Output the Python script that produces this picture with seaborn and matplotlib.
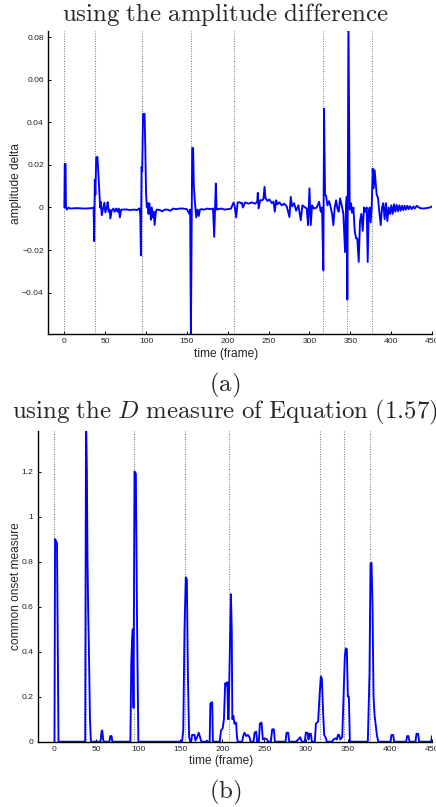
import matplotlib
matplotlib.use("Agg")
import matplotlib.pyplot as plt
import seaborn as sns
import pandas as pd

# ---------------- data ----------------
onsets_a = [0, 37, 95, 155, 208, 317, 346, 376]
onsets_b = [0, 38, 95, 156, 208, 317, 345, 376]

amp_frames = [0, 0.5, 1.5, 2, 3, 5, 7, 15, 25, 34, 35.8, 36.5, 37.3, 38, 39, 40.5, 42.5, 43.8,
              44.6, 45.8, 47.4, 49, 50.2, 52, 53, 54.3, 55.5, 56.3, 58, 60, 61.5, 63.5, 65,
              66.5, 68, 69.5, 72, 76, 80, 85, 89, 92, 92.9, 93.7, 94.5, 95.3, 96.3, 98.2, 99,
              100, 101, 102, 103, 104, 105, 106, 107, 108.5, 109.5, 110.5, 112, 113, 117, 120,
              123, 126, 130, 133, 137, 141, 145, 150, 153, 154, 154.9, 156.5, 157.6, 158.5,
              159.8, 161.5, 163, 164.5, 166, 168, 171, 175, 179, 182, 183.4, 185.4, 186.4,
              188, 192, 196, 200, 204, 207, 208.3, 210.4, 212, 214, 216, 217.2, 218.5, 221.3,
              225.4, 229.5, 233.5, 236, 236.8, 237.8, 239.6, 242.1, 243.7, 245, 246.2, 248.6,
              251, 253.9, 256, 257.6, 259.2, 260.8, 263.3, 266.1, 269, 272.2, 275.5, 277.1,
              278.8, 281.2, 283.7, 286.5, 289.4, 291.4, 294.7, 296.7, 298.3, 300, 301.6, 303.2,
              305.7, 308.9, 311.8, 313.8, 315.4, 317, 317.9, 319.1, 320.3, 322, 324, 326,
              327.7, 329.3, 330.9, 332.6, 334.2, 335.8, 337.5, 339.5, 341.5, 342.3, 343.6,
              344.8, 345.6, 346.4, 347.8, 349.3, 350.9, 352.1, 353.8, 355.4, 357, 358.6, 360.3,
              361.9, 363.5, 365.2, 366.8, 368.4, 370.1, 371.3, 372.5, 373.7, 374.9, 376.2,
              377.4, 378.6, 379.8, 381, 382.3, 383.9, 385.5, 387.2, 388.8, 390.4, 392, 393.7,
              395.3, 396.9, 398.6, 400.2, 401.8, 403.5, 405.1, 406.7, 408.4, 410, 411.6, 413.3,
              414.9, 416.5, 418.1, 419.8, 421.4, 423, 425.1, 427.1, 429.1, 431.2, 435.3, 439.3,
              443.4, 447.5, 450]
amp_delta = [0.0, 0.0205, 0.0205, 0.0, -0.001, 0.0, -0.0005, -0.0003, -0.0005, -0.0003, 0.0,
             -0.0158, 0.013, 0.006, 0.0235, 0.0238, 0.010, 0.0, 0.0027, -0.0036, -0.0005, 0.0023,
             -0.0023, 0.0, 0.0025, -0.002, -0.001, -0.0052, -0.0015, -0.0005, -0.002, -0.0005,
             -0.002, -0.0005, -0.0047, -0.001, -0.001, -0.0009, -0.0012, -0.001, -0.0012,
             -0.0004, -0.003, -0.0225, 0.019, 0.017, 0.044, 0.044, 0.030, 0.0067, 0.0, 0.002,
             -0.003, 0.002, -0.0015, -0.0058, 0.0, -0.0047, -0.002, -0.0082, -0.002, -0.001,
             -0.0012, -0.0018, -0.001, -0.001, -0.0015, -0.0005, -0.0008, -0.0005, -0.0005,
             -0.0008, -0.003, -0.001, -0.062, 0.028, 0.028, 0.010, 0.0025, -0.0047, -0.001,
             -0.004, -0.001, -0.0008, -0.001, -0.0005, -0.0008, -0.0005, -0.0138, 0.0113,
             -0.001, -0.0008, -0.0005, -0.001, -0.0008, -0.0005, 0.0023, 0.001, -0.0047, 0.0023,
             0.0025, 0.002, 0.0023, 0.0, 0.0024, 0.0018, 0.0024, 0.0018, 0.0026, 0.0069, -0.0005,
             0.0034, 0.0034, 0.004, 0.0097, 0.0045, 0.003, 0.0038, 0.002, 0.0028, -0.002, 0.0034,
             0.0015, 0.0024, 0.001, 0.0018, 0.0005, -0.0045, 0.005, 0.0005, 0.002, -0.0015,
             0.001, -0.006, 0.001, 0.0, -0.0005, -0.0083, 0.009, -0.0083, 0.001, -0.0005, 0.0,
             0.0027, -0.002, 0.0, -0.0295, 0.0464, 0.006, 0.0055, 0.001, 0.003, 0.0, -0.003,
             -0.0083, 0.0, 0.0034, -0.0005, -0.002, 0.0043, 0.001, -0.003, -0.0099, -0.021, 0.0,
             0.005, -0.0433, 0.085, -0.001, 0.002, -0.0025, 0.0, -0.011, -0.0145, -0.0146,
             -0.0256, -0.0064, -0.003, -0.011, 0.0, -0.002, 0.0, -0.0256, -0.002, 0.0, -0.007,
             0.0, 0.0183, 0.009, 0.0175, 0.012, 0.006, 0.0045, -0.002, -0.0083, 0.0, 0.002,
             -0.0055, 0.002, -0.0064, 0.0, -0.003, 0.001, -0.003, 0.0015, -0.002, 0.0012,
             -0.0018, 0.001, -0.0015, 0.0008, -0.0012, 0.0008, -0.001, 0.0008, -0.0008, 0.0006,
             -0.0008, 0.0005, -0.0005, 0.0008, -0.0003, -0.0005, -0.0003, 0.0, 0.0005]

d_frames = [0, 0.7, 2.0, 3.0, 4.8, 36.6, 37.6, 38.6, 39.4, 40.3, 41, 42.3, 43.4, 55, 56, 57, 58,
            59, 65.5, 66.5, 68, 69, 90.5, 91.5, 92.5, 93.3, 94.2, 95.4, 97, 98.5, 100, 152,
            153.5, 155, 156.5, 157.8, 159, 160.5, 162, 163, 164, 167, 168, 170, 172, 173.5,
            175, 181, 181.6, 182.3, 185, 185.8, 188, 188.8, 197, 198.5, 200.5, 202, 203.5, 205,
            206, 207, 207.5, 209, 210.3, 211.3, 212, 213.3, 214.5, 216.5, 217.5, 218.5, 223.7,
            225.3, 226.5, 228.5, 230.5, 232.5, 233.7, 237.3, 238.5, 240.4, 241.6, 243.6, 244.8,
            246.8, 248.4, 250.8, 253.2, 254.7, 257.9, 259.5, 261.5, 262.7, 275.4, 276.6, 278.6,
            279.8, 288.1, 290.5, 292.9, 294.9, 298.4, 299.6, 301.6, 302.8, 304, 305.6, 306.8,
            310.4, 311.6, 313.1, 314.3, 315.9, 317.5, 318.7, 320.3, 321.5, 323.1, 324.7, 331,
            332.6, 335, 336.6, 337.8, 339.4, 340.6, 343, 344.5, 346.1, 347.3, 348.5, 349.7,
            350.9, 352.1, 373.5, 375.5, 376.7, 377.9, 379.1, 380.3, 381.5, 382.7, 384.3, 385.9,
            400.6, 401.7, 403.7, 404.9, 419.2, 420.4, 422, 423.2, 430.3, 431.5, 433.5, 434.7,
            449, 450]
d_measure = [0.0, 0.90, 0.89, 0.88, 0.0, 0.0, 1.45, 1.2, 0.8, 0.55, 0.42, 0.1, 0.0, 0.0, 0.045,
             0.05, 0.01, 0.0, 0.0, 0.025, 0.025, 0.0, 0.0, 0.35, 0.45, 0.50, 0.15, 1.2, 1.19,
             0.5, 0.0, 0.0, 0.05, 0.5, 0.73, 0.72, 0.3, 0.02, 0.0, 0.0, 0.03, 0.03, 0.005, 0.02,
             0.04, 0.02, 0.0, 0.0, 0.005, 0.0, 0.0, 0.17, 0.175, 0.0, 0.0, 0.05, 0.06, 0.1, 0.26,
             0.25, 0.265, 0.1, 0.1, 0.4, 0.655, 0.5, 0.1, 0.115, 0.08, 0.085, 0.02, 0.0, 0.0,
             0.03, 0.04, 0.025, 0.03, 0.02, 0.0, 0.0, 0.04, 0.045, 0.0, 0.0, 0.08, 0.085, 0.01,
             0.015, 0.01, 0.0, 0.0, 0.055, 0.055, 0.0, 0.0, 0.04, 0.04, 0.0, 0.0, 0.01, 0.02,
             0.0, 0.0, 0.04, 0.04, 0.01, 0.035, 0.035, 0.0, 0.0, 0.08, 0.085, 0.09, 0.2, 0.29,
             0.28, 0.12, 0.03, 0.02, 0.0, 0.0, 0.01, 0.015, 0.01, 0.03, 0.03, 0.01, 0.02, 0.2,
             0.38, 0.415, 0.41, 0.2, 0.2, 0.0, 0.0, 0.3, 0.79, 0.795, 0.6, 0.2, 0.12, 0.08, 0.03,
             0.0, 0.0, 0.03, 0.03, 0.0, 0.0, 0.025, 0.025, 0.0, 0.0, 0.035, 0.035, 0.0, 0.0,
             0.025]

xticks = [0, 50, 100, 150, 200, 250, 300, 350, 400, 450]
yticks_a = [-0.04, -0.02, 0, 0.02, 0.04, 0.06, 0.08]
ylabels_a = ["\u22120.04", "\u22120.02", "0", "0.02", "0.04", "0.06", "0.08"]
yticks_b = [0, 0.2, 0.4, 0.6, 0.8, 1.0, 1.2]
ylabels_b = ["0", "0.2", "0.4", "0.6", "0.8", "1", "1.2"]

# ---------------- style ----------------
sns.set_style("ticks")
plt.rcParams["font.family"] = ["Liberation Sans", "DejaVu Sans"]
plt.rcParams["mathtext.fontset"] = "cm"
plt.rcParams["xtick.direction"] = "in"
plt.rcParams["ytick.direction"] = "in"

W, H = 436, 807
fig = plt.figure(figsize=(W / 100, H / 100), dpi=100)

ax1 = fig.add_axes([48 / W, 1 - 334 / H, (432 - 48) / W, (334 - 31) / H])
ax2 = fig.add_axes([37.7 / W, 1 - 741.7 / H, (432 - 37.7) / W, (741.7 - 431) / H])

df_a = pd.DataFrame({"frame": amp_frames, "delta": amp_delta})
df_b = pd.DataFrame({"frame": d_frames, "measure": d_measure})

for x in onsets_a:
    ax1.axvline(x, color="0.5", ls=(0, (1, 1.4)), lw=0.75, zorder=1)
for x in onsets_b:
    ax2.axvline(x, color="0.5", ls=(0, (1, 1.4)), lw=0.75, zorder=1)

sns.lineplot(data=df_a, x="frame", y="delta", ax=ax1, color="#0000ff", lw=1.35,
             estimator=None, zorder=3)
sns.lineplot(data=df_b, x="frame", y="measure", ax=ax2, color="#0000ff", lw=1.35,
             estimator=None, zorder=3)

ax1.set_xlim(-20, 450)
ax1.set_ylim(-0.0595, 0.083)
ax2.set_xlim(-20, 450)
ax2.set_ylim(0, 1.38)

ax1.set_yticks(yticks_a)
ax1.set_yticklabels(ylabels_a)
ax2.set_yticks(yticks_b)
ax2.set_yticklabels(ylabels_b)
for ax in (ax1, ax2):
    ax.set_xticks(xticks)
    ax.set_xticklabels([str(v) for v in xticks])
    ax.set_xlabel("")
    ax.set_ylabel("")
    for s in ("top", "right"):
        ax.spines[s].set_visible(False)
    for s in ("left", "bottom"):
        ax.spines[s].set_linewidth(1.0)
        ax.spines[s].set_color("black")
    ax.tick_params(axis="both", labelsize=6.1, length=2.4, width=0.7, colors="black",
                   labelcolor="#222222", pad=3)

cx = 225 / W
fig.text(cx, 1 - 14 / H, r"$\mathrm{using\ the\ amplitude\ difference}$",
         ha="center", va="center", fontsize=17.9)
fig.text(226 / W, 1 - 354 / H, "time (frame)", ha="center", va="center", fontsize=8.6)
fig.text(16 / W, 1 - 184 / H, "amplitude delta", ha="center", va="center",
         rotation=90, fontsize=8.6)
fig.text(cx, 1 - 385 / H, r"$\mathrm{(a)}$", ha="center", va="center", fontsize=17.9)

fig.text(224.5 / W, 1 - 412 / H,
         r"$\mathrm{using\ the\ }D\mathrm{\ measure\ of\ Equation\ (1.57)}$",
         ha="center", va="center", fontsize=17.9)
fig.text(221 / W, 1 - 761 / H, "time (frame)", ha="center", va="center", fontsize=8.6)
fig.text(16 / W, 1 - 586 / H, "common onset measure", ha="center", va="center",
         rotation=90, fontsize=8.6)
fig.text(cx, 1 - 792 / H, r"$\mathrm{(b)}$", ha="center", va="center", fontsize=17.9)

fig.savefig("out.png", dpi=100)
